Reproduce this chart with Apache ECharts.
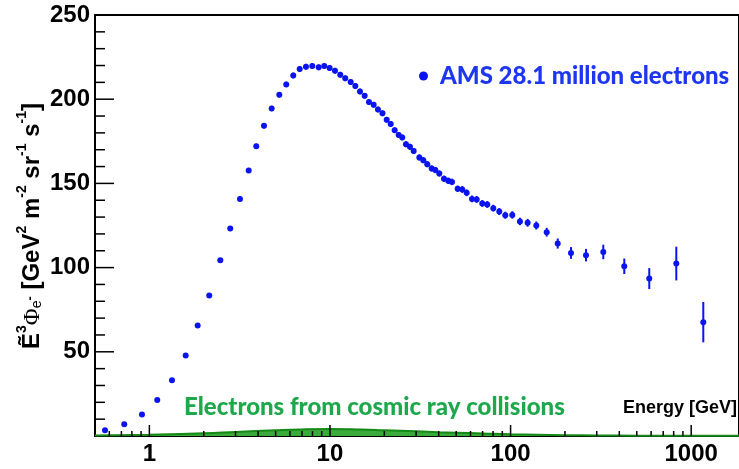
<html>
<head>
<meta charset="utf-8">
<title>AMS electrons</title>
<script src="https://cdn.jsdelivr.net/npm/echarts@6/dist/echarts.min.js"></script>
</head>
<body style="margin:0;background:#fff;">
<div id="main" style="width:739px;height:469px;"></div>
<script>
// AMS electron flux, E^3 * flux
var energy = [0.568, 0.726, 0.910, 1.106, 1.334, 1.589, 1.851, 2.146, 2.470, 2.805,
    3.175, 3.547, 3.908, 4.311, 4.755, 5.241, 5.728, 6.263, 6.797, 7.364,
    7.980, 8.659, 9.299, 9.96, 10.66, 11.40, 12.15, 13.02, 13.81, 14.66,
    15.56, 16.44, 17.46, 18.44, 19.53, 20.61, 21.69, 22.82, 24.01, 25.14,
    26.35, 27.73, 29.07, 31.24, 32.86, 34.57, 36.57, 38.30, 40.30, 42.78,
    45.19, 47.38, 50.93, 54.01, 57.14, 61.14, 64.91, 69.70, 74.30, 80.22,
    86.59, 93.48, 102.2, 112.7, 124.3, 138.8, 158.5, 182.4, 216.0, 261.6,
    326.1, 426.2, 586.1, 827.2, 1167];
var flux = [3.4, 7.0, 12.7, 21.4, 33.1, 47.8, 65.6, 83.4, 104.4, 123.2,
    140.8, 157.7, 172.0, 184.2, 194.5, 202.6, 208.8, 214.1, 217.9, 219.3,
    219.7, 218.9, 219.7, 218.5, 216.9, 214.5, 212.4, 210.2, 207.8, 204.6,
    202.0, 198.3, 196.7, 193.9, 191.6, 187.8, 185.2, 181.6, 178.8, 177.3,
    173.3, 171.7, 169.2, 165.4, 163.8, 161.4, 158.9, 157.9, 155.9, 152.7,
    151.5, 150.9, 146.8, 146.4, 144.4, 140.8, 140.5, 138.1, 137.5, 135.3,
    133.3, 131.1, 131.3, 127.4, 126.6, 125.0, 121.0, 114.3, 108.7, 107.4,
    109.3, 100.8, 93.5, 102.4, 67.6];
var fluxErr = [0.5, 0.5, 0.6, 0.8, 1, 1, 1.2, 1.2, 1.3, 1.4,
    1.4, 1.5, 1.5, 1.6, 1.6, 1.6, 1.6, 1.7, 1.7, 1.7,
    1.7, 1.7, 1.7, 1.7, 1.7, 1.7, 1.7, 1.7, 1.7, 1.7,
    1.7, 1.7, 1.7, 1.7, 1.7, 1.7, 1.7, 1.7, 1.7, 1.7,
    1.8, 1.8, 1.8, 1.8, 1.8, 1.8, 1.8, 1.8, 1.8, 1.9,
    1.9, 1.9, 1.9, 2, 2, 2, 2, 2, 2, 2,
    2.1, 2.1, 2.2, 2.2, 2.3, 2.4, 2.6, 3, 3.5, 3.7,
    4.3, 4.6, 6.2, 10, 12];

// secondary electrons from cosmic ray collisions
var bgEnergy = [0.5, 1, 2, 3, 5, 7, 10, 15, 20, 30, 40, 50, 70, 100, 200, 300, 500, 1000, 1840];
var bgFlux = [0.3, 0.8, 1.6, 2.4, 3.4, 3.9, 4.1, 3.8, 3.4, 2.8, 2.3, 2.0, 1.5, 1.0, 0.5, 0.35, 0.2, 0.1, 0.1];

// tick values
var xMajorTicks = [1, 10, 100, 1000];
var xMinorTicks = [0.6, 0.7, 0.8, 0.9, 2, 3, 4, 5, 6, 7, 8, 9,
    20, 30, 40, 50, 60, 70, 80, 90, 200, 300, 400, 500, 600, 700, 800, 900];
var yMajorTicks = [50, 100, 150, 200, 250];
var yMinorTicks = [10, 20, 30, 40, 60, 70, 80, 90, 110, 120, 130, 140,
    160, 170, 180, 190, 210, 220, 230, 240];

var xMin = 0.5, xMax = 1840;
var seriesName = 'AMS 28.1 million electrons';
var blue = '#0a14f0';
var tickColor = '#000';

var points = [];
var errPoints = [];
for (var i = 0; i < energy.length; i++) {
    points.push([energy[i], flux[i]]);
    errPoints.push([energy[i], flux[i], fluxErr[i]]);
}
var bg = [];
for (var i = 0; i < bgEnergy.length; i++) {
    bg.push([bgEnergy[i], bgFlux[i]]);
}

// tick marks drawn through the axes' own scales
function xTickSeries(vals, len) {
    return {
        type: 'custom', silent: true, z: 5, clip: false,
        data: vals.map(function (v) { return [v, 0]; }),
        encode: {x: 0, y: 1},
        renderItem: function (params, api) {
            var p = api.coord([api.value(0), 0]);
            return {type: 'line', shape: {x1: p[0], y1: p[1], x2: p[0], y2: p[1] - len},
                style: {stroke: tickColor, lineWidth: 1.5}};
        }
    };
}
function yTickSeries(vals, len) {
    return {
        type: 'custom', silent: true, z: 5, clip: false,
        data: vals.map(function (v) { return [xMin, v]; }),
        encode: {x: 0, y: 1},
        renderItem: function (params, api) {
            var p = api.coord([xMin, api.value(1)]);
            return {type: 'line', shape: {x1: p[0], y1: p[1], x2: p[0] + len, y2: p[1]},
                style: {stroke: tickColor, lineWidth: 1.5}};
        }
    };
}

var myChart = echarts.init(document.getElementById('main'));
var axisFont = {fontFamily: 'Liberation Sans', fontWeight: 'bold', fontSize: 24, color: '#000'};

var option = {
    backgroundColor: '#fff',
    animation: false,
    grid: {left: 95, top: 15, right: -3, bottom: 33, show: true, borderColor: '#000', borderWidth: 2},
    legend: {
        data: [seriesName],
        left: 414, top: 59,
        icon: 'circle', itemWidth: 9, itemHeight: 9,
        textStyle: {color: '#1c36f2', fontFamily: 'Lato', fontWeight: 900, fontSize: 24, padding: [0, 0, 0, 7]}
    },
    xAxis: {
        type: 'log', min: xMin, max: xMax,
        axisLine: {show: true, lineStyle: {color: '#000', width: 2}},
        axisTick: {show: false},
        axisLabel: Object.assign({
            customValues: xMajorTicks, margin: 6,
            formatter: function (v) { return String(Math.round(v)); }
        }, axisFont),
        splitLine: {show: false}
    },
    yAxis: {
        type: 'value', min: 0, max: 250, interval: 50,
        axisLine: {show: true, lineStyle: {color: '#000', width: 2}},
        axisTick: {show: false},
        minorTick: {show: false},
        axisLabel: Object.assign({margin: 5, showMinLabel: false}, axisFont),
        splitLine: {show: false}
    },
    graphic: [{
        type: 'text', x: 30, y: 226, rotation: Math.PI / 2,
        style: {
            text: '{b|Ẽ}{sup|3}{phi|Φ}{sub|e}{sup2|-}{b| [GeV}{sup|2}{b| m}{sup|-2}{b| sr}{sup|-1}{b| s}{sup|-1}{b|]}',
            align: 'center', verticalAlign: 'middle',
            rich: {
                b: {fontFamily: 'Liberation Sans', fontWeight: 'bold', fontSize: 24, fill: '#000', lineHeight: 29, verticalAlign: 'bottom'},
                sup: {fontFamily: 'Liberation Sans', fontWeight: 'bold', fontSize: 14, fill: '#000', verticalAlign: 'top'},
                sup2: {fontFamily: 'Liberation Sans', fontWeight: 'bold', fontSize: 13, fill: '#000', verticalAlign: 'middle'},
                phi: {fontFamily: 'Liberation Serif', fontSize: 23, fill: '#000', verticalAlign: 'bottom'},
                sub: {fontFamily: 'Liberation Sans', fontSize: 14, fill: '#000', verticalAlign: 'bottom'}
            }
        }
    }, {
        type: 'text', x: 184, y: 407,
        style: {text: 'Electrons from cosmic ray collisions', fill: '#1ea84c', font: '900 24px Lato', verticalAlign: 'middle'}
    }, {
        type: 'text', x: 737, y: 408,
        style: {text: 'Energy [GeV]', fill: '#000', font: 'bold 18px "Liberation Sans"', align: 'right', verticalAlign: 'middle'}
    }],
    series: [{
        name: 'secondary',
        type: 'line',
        data: bg,
        smooth: true,
        symbol: 'none',
        lineStyle: {color: '#168a16', width: 2},
        areaStyle: {color: '#3aaa3a', opacity: 1},
        z: 1
    }, {
        name: 'errors',
        type: 'custom',
        data: errPoints,
        encode: {x: 0, y: 1},
        renderItem: function (params, api) {
            var x = api.value(0), y = api.value(1), e = api.value(2);
            var lo = api.coord([x, y - e]);
            var hi = api.coord([x, y + e]);
            return {
                type: 'line',
                shape: {x1: lo[0], y1: lo[1], x2: hi[0], y2: hi[1]},
                style: {stroke: blue, lineWidth: 2}
            };
        },
        z: 3
    }, {
        name: seriesName,
        type: 'scatter',
        data: points,
        symbolSize: 6,
        itemStyle: {color: blue, opacity: 1},
        z: 4
    },
    xTickSeries(xMajorTicks, 11),
    xTickSeries(xMinorTicks, 5),
    yTickSeries(yMajorTicks, 19),
    yTickSeries(yMinorTicks, 10)]
};
myChart.setOption(option);
</script>
</body>
</html>
